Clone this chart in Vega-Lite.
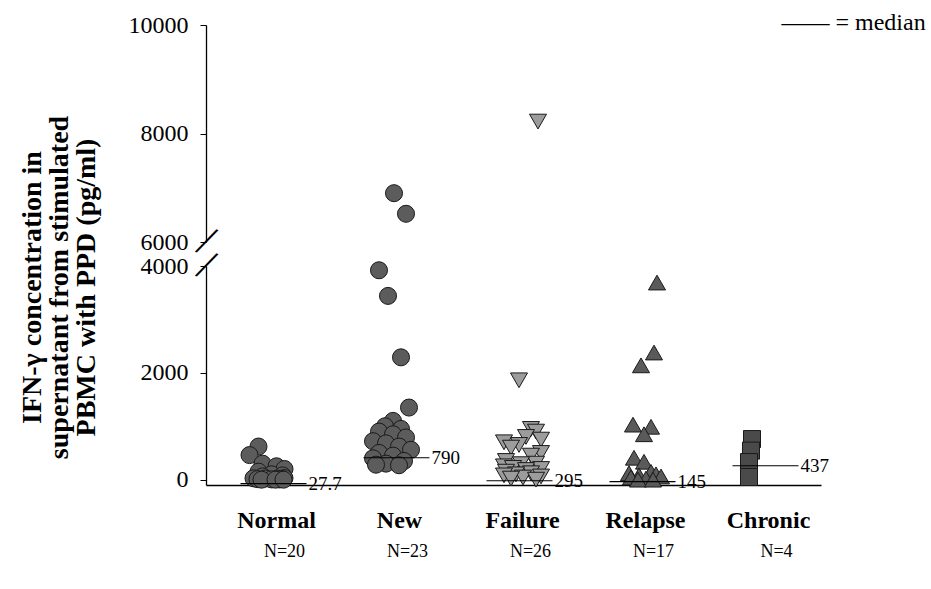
{
  "$schema": "https://vega.github.io/schema/vega-lite/v6.json",
  "padding": {"left": 17, "top": 11, "right": 0, "bottom": 5},
  "background": "white",
  "bounds": "flush",
  "config": {
    "font": "Liberation Serif",
    "view": {"stroke": null},
    "axis": {"domainColor": "black", "tickColor": "black", "labelColor": "black", "titleColor": "black", "grid": false, "labelFont": "Liberation Serif", "titleFont": "Liberation Serif"}
  },
  "datasets": {
    "pts": [
      {"group": "Normal", "value": 620, "jitter": -0.9},
      {"group": "Normal", "value": 460, "jitter": -1.8},
      {"group": "Normal", "value": 300, "jitter": -0.5},
      {"group": "Normal", "value": 250, "jitter": 0.9},
      {"group": "Normal", "value": 200, "jitter": 1.7},
      {"group": "Normal", "value": 150, "jitter": -0.9},
      {"group": "Normal", "value": 100, "jitter": 0.4},
      {"group": "Normal", "value": 80, "jitter": 1.5},
      {"group": "Normal", "value": 60, "jitter": -0.5},
      {"group": "Normal", "value": 30, "jitter": 1.7},
      {"group": "Normal", "value": 25.4, "jitter": -1.4},
      {"group": "Normal", "value": 22, "jitter": -0.2},
      {"group": "Normal", "value": 20, "jitter": 1.0},
      {"group": "Normal", "value": 15, "jitter": 1.4},
      {"group": "Normal", "value": 10, "jitter": -1.0},
      {"group": "Normal", "value": 5, "jitter": 0.4},
      {"group": "Normal", "value": 5, "jitter": 1.2},
      {"group": "Normal", "value": 0, "jitter": -0.6},
      {"group": "Normal", "value": 0, "jitter": 0.8},
      {"group": "Normal", "value": 0, "jitter": 1.6},
      {"group": "New", "value": 6900, "jitter": 0.35},
      {"group": "New", "value": 6520, "jitter": 1.55},
      {"group": "New", "value": 3920, "jitter": -1.15},
      {"group": "New", "value": 3440, "jitter": -0.25},
      {"group": "New", "value": 2290, "jitter": 1.05},
      {"group": "New", "value": 1350, "jitter": 1.85},
      {"group": "New", "value": 1100, "jitter": 0.25},
      {"group": "New", "value": 1000, "jitter": -0.55},
      {"group": "New", "value": 950, "jitter": 1.05},
      {"group": "New", "value": 900, "jitter": -1.15},
      {"group": "New", "value": 850, "jitter": 0.25},
      {"group": "New", "value": 790, "jitter": 1.55},
      {"group": "New", "value": 720, "jitter": -1.75},
      {"group": "New", "value": 680, "jitter": -0.45},
      {"group": "New", "value": 620, "jitter": 0.85},
      {"group": "New", "value": 560, "jitter": 2.05},
      {"group": "New", "value": 500, "jitter": -1.15},
      {"group": "New", "value": 450, "jitter": 0.25},
      {"group": "New", "value": 400, "jitter": -1.75},
      {"group": "New", "value": 350, "jitter": 1.35},
      {"group": "New", "value": 300, "jitter": -0.45},
      {"group": "New", "value": 280, "jitter": -1.45},
      {"group": "New", "value": 270, "jitter": 0.85},
      {"group": "Failure", "value": 8220, "jitter": 2.45},
      {"group": "Failure", "value": 1860, "jitter": 0.55},
      {"group": "Failure", "value": 950, "jitter": 1.75},
      {"group": "Failure", "value": 900, "jitter": 2.25},
      {"group": "Failure", "value": 800, "jitter": 1.25},
      {"group": "Failure", "value": 750, "jitter": 2.75},
      {"group": "Failure", "value": 700, "jitter": -0.95},
      {"group": "Failure", "value": 650, "jitter": 0.55},
      {"group": "Failure", "value": 600, "jitter": -0.25},
      {"group": "Failure", "value": 500, "jitter": 2.75},
      {"group": "Failure", "value": 450, "jitter": 1.75},
      {"group": "Failure", "value": 350, "jitter": -0.75},
      {"group": "Failure", "value": 300, "jitter": 2.25},
      {"group": "Failure", "value": 290, "jitter": 0.75},
      {"group": "Failure", "value": 250, "jitter": -0.95},
      {"group": "Failure", "value": 220, "jitter": -0.05},
      {"group": "Failure", "value": 200, "jitter": 2.75},
      {"group": "Failure", "value": 180, "jitter": 1.25},
      {"group": "Failure", "value": 150, "jitter": -0.75},
      {"group": "Failure", "value": 120, "jitter": 1.75},
      {"group": "Failure", "value": 100, "jitter": 0.25},
      {"group": "Failure", "value": 80, "jitter": -0.95},
      {"group": "Failure", "value": 60, "jitter": 2.75},
      {"group": "Failure", "value": 40, "jitter": 0.95},
      {"group": "Failure", "value": 20, "jitter": -0.25},
      {"group": "Failure", "value": 0, "jitter": 2.25},
      {"group": "Relapse", "value": 3690, "jitter": 2.05},
      {"group": "Relapse", "value": 2380, "jitter": 1.75},
      {"group": "Relapse", "value": 2140, "jitter": 0.45},
      {"group": "Relapse", "value": 1030, "jitter": -0.35},
      {"group": "Relapse", "value": 990, "jitter": 1.45},
      {"group": "Relapse", "value": 850, "jitter": 0.75},
      {"group": "Relapse", "value": 410, "jitter": -0.25},
      {"group": "Relapse", "value": 335, "jitter": 0.75},
      {"group": "Relapse", "value": 145, "jitter": 1.45},
      {"group": "Relapse", "value": 120, "jitter": -0.75},
      {"group": "Relapse", "value": 100, "jitter": 1.95},
      {"group": "Relapse", "value": 80, "jitter": 0.25},
      {"group": "Relapse", "value": 60, "jitter": 2.45},
      {"group": "Relapse", "value": 40, "jitter": -0.55},
      {"group": "Relapse", "value": 20, "jitter": 0.95},
      {"group": "Relapse", "value": 0, "jitter": 0.15},
      {"group": "Relapse", "value": 0, "jitter": 1.65},
      {"group": "Chronic", "value": 760, "jitter": -0.75},
      {"group": "Chronic", "value": 544, "jitter": -0.85},
      {"group": "Chronic", "value": 330, "jitter": -1.05},
      {"group": "Chronic", "value": 50, "jitter": -1.05}
    ],
    "med": [
      {"group": "Normal", "line": -75, "label": "27.7", "n": "N=20"},
      {"group": "New", "line": 410, "label": "790", "n": "N=23"},
      {"group": "Failure", "line": -20, "label": "295", "n": "N=26"},
      {"group": "Relapse", "line": -35, "label": "145", "n": "N=17"},
      {"group": "Chronic", "line": 260, "label": "437", "n": "N=4"}
    ]
  },
  "vconcat": [
    {
      "width": 615,
      "height": 217,
      "layer": [
        {
          "data": {"name": "pts"},
          "transform": [{"filter": "datum.value >= 6000"}],
          "mark": {"type": "point", "filled": true, "strokeWidth": 1, "stroke": "#1a1a1a", "opacity": 1},
          "encoding": {
            "x": {"field": "group", "type": "nominal", "sort": ["Normal", "New", "Failure", "Relapse", "Chronic"], "scale": {"domain": ["Normal", "New", "Failure", "Relapse", "Chronic"], "paddingInner": 0, "paddingOuter": 0}, "axis": null},
            "xOffset": {"field": "jitter", "type": "quantitative", "scale": {"domain": [-5, 5], "range": [11.5, 111.5]}},
            "y": {"field": "value", "type": "quantitative", "scale": {"domain": [6000, 10000], "nice": false, "zero": false}, "axis": {"values": [6000, 8000, 10000], "format": "d", "title": null, "tickSize": 6, "labelPadding": 12, "labelFontSize": 24, "domainWidth": 1.3}},
            "shape": {"field": "group", "type": "nominal", "scale": {"domain": ["Normal", "New", "Failure", "Relapse", "Chronic"], "range": ["circle", "circle", "triangle-down", "triangle-up", "square"]}, "legend": null},
            "fill": {"field": "group", "type": "nominal", "scale": {"domain": ["Normal", "New", "Failure", "Relapse", "Chronic"], "range": ["#5c5c5c", "#5c5c5c", "#9c9c9c", "#5a5a5a", "#4a4a4a"]}, "legend": null},
            "size": {"field": "group", "type": "nominal", "scale": {"domain": ["Normal", "New", "Failure", "Relapse", "Chronic"], "range": [290, 290, 290, 280, 220]}, "legend": null}
          }
        },
        {
          "data": {"values": [{"legend": "—— = median"}]},
          "mark": {"type": "text", "align": "left", "baseline": "middle", "fontSize": 24, "dx": 22, "dy": -2, "color": "black"},
          "encoding": {
            "x": {"datum": "Chronic", "type": "nominal", "axis": null},
            "y": {"datum": 10000, "type": "quantitative"},
            "text": {"field": "legend"}
          }
        },
        {
          "data": {"values": [{"brk": "/"}]},
          "mark": {"type": "text", "align": "center", "baseline": "middle", "fontSize": 44, "dx": -55.7, "dy": 26, "angle": 25, "color": "black"},
          "encoding": {
            "x": {"datum": "Normal", "type": "nominal", "axis": null},
            "y": {"datum": 6000, "type": "quantitative"},
            "text": {"field": "brk"}
          }
        }
      ]
    },
    {
      "width": 615,
      "height": 219,
      "resolve": {"axis": {"x": "independent"}},
      "layer": [
        {
          "data": {"name": "pts"},
          "transform": [{"filter": "datum.value < 6000"}],
          "mark": {"type": "point", "filled": true, "strokeWidth": 1, "stroke": "#1a1a1a", "opacity": 1},
          "encoding": {
            "x": {"field": "group", "type": "nominal", "sort": ["Normal", "New", "Failure", "Relapse", "Chronic"], "scale": {"domain": ["Normal", "New", "Failure", "Relapse", "Chronic"], "paddingInner": 0, "paddingOuter": 0}, "axis": {"orient": "bottom", "title": null, "ticks": false, "labelAngle": 0, "labelFontSize": 24, "labelFontWeight": "bold", "labelPadding": 23, "labelOffset": 9, "domainWidth": 1.3}},
            "xOffset": {"field": "jitter", "type": "quantitative", "scale": {"domain": [-5, 5], "range": [11.5, 111.5]}},
            "y": {"field": "value", "type": "quantitative", "scale": {"domain": [-100, 4000], "nice": false, "zero": false}, "axis": {"values": [0, 2000, 4000], "format": "d", "tickSize": 6, "labelPadding": 12, "labelFontSize": 24, "domainWidth": 1.3, "title": ["IFN-γ concentration in", "supernatant from stimulated", "PBMC with PPD (pg/ml)"], "titleFontSize": 28, "titleFontWeight": "bold", "titleLineHeight": 27, "titleAngle": -90, "titleAlign": "center", "titleBaseline": "middle", "titleX": -174, "titleY": 21}},
            "shape": {"field": "group", "type": "nominal", "scale": {"domain": ["Normal", "New", "Failure", "Relapse", "Chronic"], "range": ["circle", "circle", "triangle-down", "triangle-up", "square"]}, "legend": null},
            "fill": {"field": "group", "type": "nominal", "scale": {"domain": ["Normal", "New", "Failure", "Relapse", "Chronic"], "range": ["#5c5c5c", "#5c5c5c", "#9c9c9c", "#5a5a5a", "#4a4a4a"]}, "legend": null},
            "size": {"field": "group", "type": "nominal", "scale": {"domain": ["Normal", "New", "Failure", "Relapse", "Chronic"], "range": [290, 290, 290, 280, 220]}, "legend": null}
          }
        },
        {
          "data": {"name": "med"},
          "mark": {"type": "tick", "orient": "horizontal", "size": 66, "thickness": 1.2, "color": "black", "xOffset": 6, "opacity": 1},
          "encoding": {
            "x": {"field": "group", "type": "nominal", "sort": ["Normal", "New", "Failure", "Relapse", "Chronic"], "axis": {"orient": "bottom", "title": null, "domain": false, "ticks": false, "labelAngle": 0, "labelFontSize": 18, "labelPadding": 57, "labelOffset": 17, "labelExpr": "{'Normal':'N=20','New':'N=23','Failure':'N=26','Relapse':'N=17','Chronic':'N=4'}[datum.value]"}},
            "y": {"field": "line", "type": "quantitative"}
          }
        },
        {
          "data": {"name": "med"},
          "mark": {"type": "text", "align": "left", "baseline": "middle", "dx": 41, "fontSize": 19, "color": "black"},
          "encoding": {
            "x": {"field": "group", "type": "nominal", "sort": ["Normal", "New", "Failure", "Relapse", "Chronic"], "axis": null},
            "y": {"field": "line", "type": "quantitative"},
            "text": {"field": "label"}
          }
        },
        {
          "data": {"values": [{"brk": "/"}]},
          "mark": {"type": "text", "align": "center", "baseline": "middle", "fontSize": 44, "dx": -55.7, "dy": 26, "angle": 25, "color": "black"},
          "encoding": {
            "x": {"datum": "Normal", "type": "nominal", "axis": null},
            "y": {"datum": 4000, "type": "quantitative"},
            "text": {"field": "brk"}
          }
        }
      ]
    }
  ],
  "spacing": 24
}
